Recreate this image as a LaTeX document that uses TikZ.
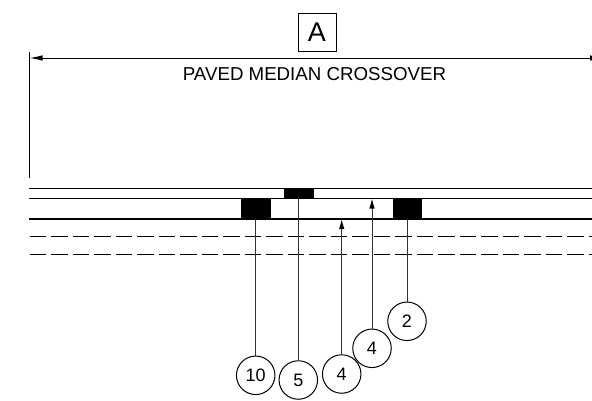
\documentclass[tikz,border=0pt]{standalone}
\usepackage{fontspec}
\setmainfont{Liberation Sans}
\usetikzlibrary{arrows.meta}
\tikzset{
  x=1pt,y=-1pt,
  road/.style={line width=1.2pt,black},
  dashroad/.style={line width=1.2pt,black,dash pattern=on 16.5pt off 5pt},
  leader/.style={line width=1pt,black!80},
  tip/.style={-{Latex[length=10pt,width=5.5pt,black]}},
  callout/.style={circle,draw,line width=1pt,minimum size=38.5pt,inner sep=0pt,font=\fontsize{18}{18}\selectfont,fill=white},
  block/.style={fill=black,inner sep=0pt,anchor=north west},
}
\begin{document}
\begin{tikzpicture}
\useasboundingbox (0,0) rectangle (592,400);
% road lines
\coordinate (r1l) at (29,188.5); \coordinate (r1r) at (592,188.5);
\coordinate (r2l) at (29,198.5); \coordinate (r2r) at (592,198.5);
\coordinate (r3l) at (29,219); \coordinate (r3r) at (592,219);
\coordinate (d1l) at (29.5,236.5); \coordinate (d1r) at (592,236.5);
\coordinate (d2l) at (29.5,254.7); \coordinate (d2r) at (592,254.7);
\draw[road] (r1l) -- (r1r);
\draw[road] (r2l) -- (r2r);
\draw[road] (r3l) -- (r3r);
\draw[dashroad] (d1l) -- (d1r);
\draw[dashroad] (d2l) -- (d2r);
% dimension
\coordinate (dt) at (29.5,52);
\coordinate (db) at (29.5,178);
\coordinate (dl) at (29.5,58);
\coordinate (dr) at (603,58);
\draw[line width=1pt] (dt) -- (db);
\draw[line width=1pt,{Latex[length=13pt,width=5.5pt]}-{Latex[length=13pt,width=5.5pt]}] (dl) -- (dr);
\node[draw,line width=1pt,minimum width=38pt,minimum height=38pt,inner sep=0pt,font=\fontsize{27}{27}\selectfont] (A) at (317,32) {A};
\node[inner sep=0pt,font=\fontsize{18.7}{18.7}\selectfont] (title) at (314.5,74) {PAVED MEDIAN CROSSOVER};
% blocks
\path (241,198) node[block,minimum width=30pt,minimum height=21pt] (b10) {};
\path (284,188.5) node[block,minimum width=30pt,minimum height=10pt] (b5) {};
\path (392.5,198) node[block,minimum width=29.3pt,minimum height=21pt] (b2) {};
% callouts
\node[callout] (c10) at (255.7,375.3) {10};
\node[callout] (c5) at (298.3,380) {5};
\node[callout] (c4a) at (341.7,374) {4};
\node[callout] (c4b) at (372,348.3) {4};
\node[callout] (c2) at (407,321.3) {2};
\coordinate (t4a) at (341.7,219);
\coordinate (t4b) at (372,198.5);
% leaders
\draw[leader] (c10) -- (c10 |- b10.south);
\draw[leader] (c5) -- (c5 |- b5.south);
\draw[leader,tip] (c4a) -- (t4a);
\draw[leader,tip] (c4b) -- (t4b);
\draw[leader] (c2) -- (c2 |- b2.south);
\end{tikzpicture}
\end{document}
